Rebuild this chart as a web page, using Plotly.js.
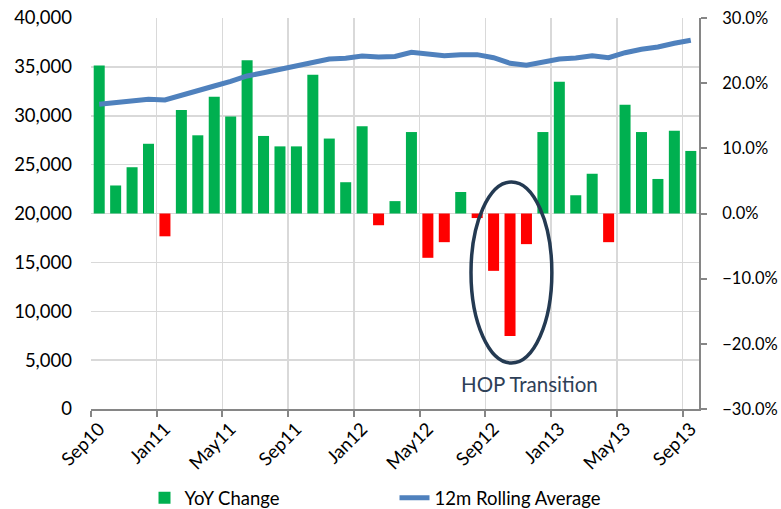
<!DOCTYPE html>
<html>
<head>
<meta charset="utf-8">
<script src="https://cdn.plot.ly/plotly-3.0.1.min.js"></script>
<style>
html,body{margin:0;padding:0;background:#fff;}
#chart{width:781px;height:509px;}
</style>
</head>
<body>
<div id="chart"></div>
<script>
// Monthly categories
var months = ['Sep10','Oct10','Nov10','Dec10','Jan11','Feb11','Mar11','Apr11','May11','Jun11','Jul11','Aug11',
  'Sep11','Oct11','Nov11','Dec11','Jan12','Feb12','Mar12','Apr12','May12','Jun12','Jul12','Aug12',
  'Sep12','Oct12','Nov12','Dec12','Jan13','Feb13','Mar13','Apr13','May13','Jun13','Jul13','Aug13','Sep13'];

// YoY change (fraction)
var yoyChange = [0.227,0.043,0.071,0.107,-0.035,0.159,0.120,0.179,0.149,0.235,0.119,0.103,
  0.103,0.213,0.115,0.048,0.134,-0.018,0.019,0.125,-0.068,-0.044,0.033,-0.007,
  -0.088,-0.188,-0.047,0.125,0.202,0.028,0.061,-0.044,0.167,0.125,0.053,0.127,0.096];

// 12m rolling average
var rollingAvg = [31170,31300,31440,31680,31610,32050,32500,33040,33520,34070,34400,34750,
  35090,35530,35810,35880,36110,36010,36060,36490,36350,36140,36250,36250,
  35940,35370,35160,35430,35810,35910,36140,35940,36450,36800,37030,37410,37720];

var annotationText = 'HOP Transition';

var GREEN = '#00B050', RED = '#FF0000', BLUE = '#4F81BD';
var FONT = 'Lato, "Open Sans", sans-serif';

var barColors = yoyChange.map(function(v){ return v >= 0 ? GREEN : RED; });

var traces = [
  {
    type: 'bar', name: 'YoY Change', x: months, y: yoyChange, yaxis: 'y',
    marker: {color: barColors, line: {width: 0}},
    hoverinfo: 'x+y'
  },
  {
    type: 'scatter', mode: 'lines', name: '12m Rolling Average', x: months, y: rollingAvg, yaxis: 'y2',
    line: {color: BLUE, width: 5}
  }
];

var layout = {
  width: 781, height: 509,
  margin: {l: 91, r: 82, t: 18, b: 100, autoexpand: false},
  paper_bgcolor: '#fff', plot_bgcolor: '#fff',
  font: {family: FONT, size: 18.5, color: '#000'},
  bargap: 0.33,
  showlegend: true,
  legend: {
    orientation: 'h', x: 0.088, xanchor: 'left', y: -0.228, yanchor: 'middle',
    entrywidth: 205, entrywidthmode: 'pixels',
    font: {family: FONT, size: 18.5, color: '#000'},
    traceorder: 'normal'
  },
  xaxis: {
    type: 'category', automargin: false,
    tickmode: 'linear', tick0: 0, dtick: 4,
    tickson: 'boundaries',
    range: [-0.5, 36.5],
    showgrid: true, gridcolor: '#D9D9D9', gridwidth: 1.5,
    showline: true, linecolor: '#868686', linewidth: 2,
    ticks: 'outside', ticklen: 6, tickcolor: '#868686', tickwidth: 2,
    tickangle: -45,
    tickfont: {family: FONT, size: 18.5, color: '#000'}
  },
  yaxis: {
    side: 'right', automargin: false,
    range: [-0.3, 0.3], dtick: 0.1, tick0: 0,
    tickformat: '.1%',
    showgrid: false, zeroline: false,
    showline: true, linecolor: '#868686', linewidth: 2,
    ticks: 'outside', ticklen: 6, tickcolor: '#868686', tickwidth: 2,
    ticklabelstandoff: 12,
    tickfont: {family: FONT, size: 16.5, color: '#000'}
  },
  yaxis2: {
    overlaying: 'y', side: 'left', automargin: false,
    range: [0, 40000], dtick: 5000, tick0: 0,
    tickformat: ',',
    showgrid: true, gridcolor: '#D9D9D9', gridwidth: 1.5,
    zeroline: false, showline: false, ticks: '',
    ticklabelstandoff: 18,
    tickfont: {family: FONT, size: 18.5, color: '#000'}
  },
  shapes: [
    {
      type: 'circle', xref: 'paper', yref: 'paper',
      x0: 0.625, x1: 0.758, y0: 0.1176, y1: 0.5806,
      line: {color: '#243A52', width: 3.5}, fillcolor: 'rgba(0,0,0,0)'
    }
  ],
  annotations: [
    {
      xref: 'paper', yref: 'paper', x: 0.7204, y: 0.064,
      text: annotationText, showarrow: false,
      font: {family: FONT, size: 20.5, color: '#2E4057'},
      xanchor: 'center', yanchor: 'middle'
    }
  ]
};

Plotly.newPlot('chart', traces, layout, {displayModeBar: false, staticPlot: true});
</script>
</body>
</html>
